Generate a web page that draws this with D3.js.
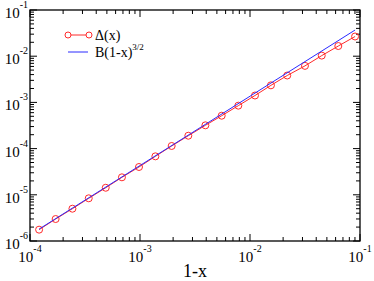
<!DOCTYPE html>
<html>
<head>
<meta charset="utf-8">
<script src="https://cdn.jsdelivr.net/npm/d3@7"></script>
<style>
  body { margin: 0; background: #fff; }
</style>
</head>
<body>
<div id="chart"></div>
<script>
// values
const oneMinusX = [1.21e-4, 1.71e-4, 2.43e-4, 3.42e-4, 4.88e-4, 6.85e-4, 9.79e-4, 1.38e-3, 1.94e-3, 2.75e-3,
                   3.93e-3, 5.53e-3, 7.83e-3, 1.11e-2, 1.55e-2, 2.18e-2, 3.16e-2, 4.49e-2, 6.35e-2, 9.02e-2];
const delta = [1.76e-6, 2.99e-6, 5.0e-6, 8.4e-6, 1.42e-5, 2.39e-5, 4.0e-5, 6.8e-5, 1.14e-4, 1.90e-4,
               3.19e-4, 5.15e-4, 8.5e-4, 1.41e-3, 2.34e-3, 3.82e-3, 6.17e-3, 1.03e-2, 1.66e-2, 2.67e-2];
const fitB = 1.36;
const fitRange = [1.21e-4, 9.02e-2];
const xDecades = [-4, -3, -2, -1];
const yDecades = [-6, -5, -4, -3, -2, -1];

const width = 374;
const height = 281;
const svg = d3.select('#chart').append('svg')
    .attr('width', width)
    .attr('height', height)
    .attr('font-family', '"Liberation Serif", "Times New Roman", "DejaVu Serif", serif');

const x = d3.scaleLog().domain([1e-4, 1e-1]).range([30, 360]);
const y = d3.scaleLog().domain([1e-6, 1e-1]).range([241, 10]);
const [x0, x1] = x.range();
const [y0, y1] = y.range();

// minor tick values for a log axis
function minors(decs) {
  const out = [];
  for (let i = 0; i < decs.length - 1; i++) {
    for (let m = 2; m <= 9; m++) out.push(m * Math.pow(10, decs[i]));
  }
  return out;
}

const ticks = svg.append('g').attr('stroke', '#000').attr('stroke-width', 1);
const majorLen = 7, minorLen = 4;

xDecades.forEach(d => {
  const px = x(Math.pow(10, d));
  ticks.append('line').attr('x1', px).attr('x2', px).attr('y1', y0).attr('y2', y0 - majorLen);
  ticks.append('line').attr('x1', px).attr('x2', px).attr('y1', y1).attr('y2', y1 + majorLen);
});
minors(xDecades).forEach(v => {
  const px = x(v);
  ticks.append('line').attr('x1', px).attr('x2', px).attr('y1', y0).attr('y2', y0 - minorLen);
  ticks.append('line').attr('x1', px).attr('x2', px).attr('y1', y1).attr('y2', y1 + minorLen);
});
yDecades.forEach(d => {
  const py = y(Math.pow(10, d));
  ticks.append('line').attr('y1', py).attr('y2', py).attr('x1', x0).attr('x2', x0 + majorLen);
  ticks.append('line').attr('y1', py).attr('y2', py).attr('x1', x1).attr('x2', x1 - majorLen);
});
minors(yDecades).forEach(v => {
  const py = y(v);
  ticks.append('line').attr('y1', py).attr('y2', py).attr('x1', x0).attr('x2', x0 + minorLen);
  ticks.append('line').attr('y1', py).attr('y2', py).attr('x1', x1).attr('x2', x1 - minorLen);
});

// frame
svg.append('rect')
    .attr('x', x0).attr('y', y1)
    .attr('width', x1 - x0).attr('height', y0 - y1)
    .attr('fill', 'none').attr('stroke', '#000').attr('stroke-width', 1.3);

// tick labels: 10^n
function powLabel(sel, d) {
  sel.append('tspan').text('10');
  sel.append('tspan').attr('font-size', 10).attr('dy', -10).text(d);
}
xDecades.forEach(d => {
  const t = svg.append('text')
      .attr('x', x(Math.pow(10, d))).attr('y', y0 + 21)
      .attr('text-anchor', 'middle').attr('font-size', 15);
  powLabel(t, d);
});
yDecades.forEach(d => {
  const t = svg.append('text')
      .attr('x', x0 - 2).attr('y', y(Math.pow(10, d)) + 8)
      .attr('text-anchor', 'end').attr('font-size', 15);
  powLabel(t, d);
});

svg.append('text')
    .attr('x', (x0 + x1) / 2).attr('y', 277)
    .attr('text-anchor', 'middle').attr('font-size', 18)
    .text('1-x');

// data
const pts = oneMinusX.map((v, i) => [v, delta[i]]);
svg.append('path')
    .datum(pts)
    .attr('fill', 'none').attr('stroke', '#ff2a2a').attr('stroke-width', 1)
    .attr('d', d3.line().x(d => x(d[0])).y(d => y(d[1])));
svg.selectAll('circle.pt').data(pts).join('circle')
    .attr('class', 'pt')
    .attr('cx', d => x(d[0])).attr('cy', d => y(d[1]))
    .attr('r', 3.5)
    .attr('fill', 'none').attr('stroke', '#ff2a2a').attr('stroke-width', 1);

// fit B(1-x)^(3/2)
svg.append('path')
    .datum(fitRange)
    .attr('fill', 'none').attr('stroke', '#2a2aff').attr('stroke-width', 1)
    .attr('d', d3.line().x(d => x(d)).y(d => y(fitB * Math.pow(d, 1.5))));

// legend
const lg = svg.append('g');
lg.append('line').attr('x1', 68).attr('x2', 89).attr('y1', 35).attr('y2', 35)
    .attr('stroke', '#ff2a2a');
[68, 89].forEach(cx => lg.append('circle').attr('cx', cx).attr('cy', 35).attr('r', 3)
    .attr('fill', '#fff').attr('stroke', '#ff2a2a'));
lg.append('text').attr('x', 95).attr('y', 40).attr('font-size', 14).text('Δ(x)');
lg.append('line').attr('x1', 68).attr('x2', 88).attr('y1', 52).attr('y2', 52)
    .attr('stroke', '#2a2aff');
const bt = lg.append('text').attr('x', 95).attr('y', 57).attr('font-size', 14);
bt.append('tspan').text('B(1-x)');
bt.append('tspan').attr('font-size', 9).attr('dy', -7).text('3/2');
</script>
</body>
</html>
